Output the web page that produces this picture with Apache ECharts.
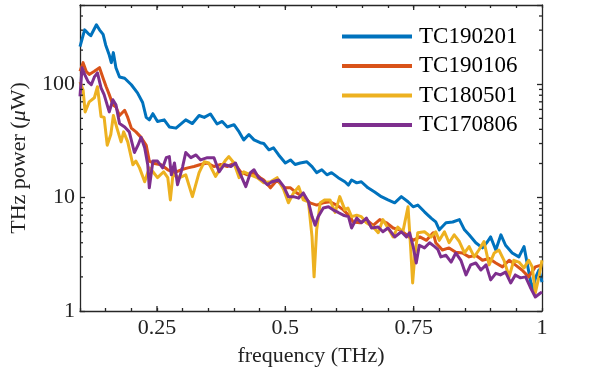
<!DOCTYPE html>
<html>
<head>
<meta charset="utf-8">
<style>
    html, body { margin: 0; padding: 0; background: #fff; }
    #thzPower { width: 598px; height: 376px; }
</style>
<script src="https://cdn.jsdelivr.net/npm/echarts@6/dist/echarts.min.js"></script>
</head>
<body>
<div id="thzPower"></div>
<script>
// [frequency (THz), power (uW)]
var tc190201 = [
    [0.100, 215], [0.109, 302], [0.116, 280], [0.121, 268], [0.132, 335], [0.138, 302],
    [0.145, 275], [0.150, 222], [0.157, 181], [0.161, 155], [0.165, 190], [0.170, 140],
    [0.177, 116], [0.187, 113], [0.200, 99], [0.212, 84], [0.222, 69], [0.229, 51],
    [0.235, 48.5], [0.242, 55], [0.251, 47], [0.264, 48.5], [0.274, 42], [0.287, 41],
    [0.306, 48.5], [0.319, 45], [0.332, 53], [0.342, 51], [0.354, 54.7], [0.367, 44.6],
    [0.377, 47], [0.387, 42], [0.400, 44], [0.410, 38], [0.419, 32.3], [0.429, 36],
    [0.439, 32.3], [0.451, 30.5], [0.458, 30], [0.468, 26.4], [0.477, 27.5], [0.487, 23.8],
    [0.500, 20.2], [0.510, 21.5], [0.519, 19.6], [0.529, 20.2], [0.542, 20.7], [0.552, 18.8],
    [0.561, 16.6], [0.571, 17.6], [0.581, 15.9], [0.590, 16.6], [0.603, 15], [0.616, 13.8],
    [0.623, 12.9], [0.629, 14.3], [0.639, 13.5], [0.648, 13.8], [0.661, 12.2], [0.674, 11.2],
    [0.687, 10.2], [0.700, 9.55], [0.713, 9], [0.726, 10.2], [0.739, 9.2], [0.749, 8.3],
    [0.758, 8.6], [0.771, 7.5], [0.784, 6.6], [0.793, 6.1], [0.800, 5.2], [0.813, 6],
    [0.826, 6.1], [0.839, 6.4], [0.849, 5.2], [0.858, 4.7], [0.871, 4.0], [0.884, 3.6],
    [0.894, 4.1], [0.900, 4.5], [0.910, 3.45], [0.920, 4.7], [0.929, 3.8], [0.942, 3.25],
    [0.955, 3.0], [0.965, 3.7], [0.971, 2.65], [0.981, 1.53], [0.988, 2.0], [0.994, 2.3],
    [1.000, 1.8]
];
var tc190106 = [
    [0.100, 130], [0.106, 155], [0.112, 130], [0.118, 122], [0.128, 130], [0.138, 140],
    [0.145, 113], [0.151, 95], [0.157, 81], [0.164, 66], [0.170, 63], [0.177, 53],
    [0.187, 59], [0.193, 51], [0.200, 41], [0.209, 38], [0.219, 34], [0.229, 29],
    [0.235, 21], [0.245, 20], [0.258, 19.5], [0.271, 17.6], [0.284, 16.6], [0.297, 17.6],
    [0.310, 18.3], [0.322, 18.8], [0.335, 19.6], [0.348, 20.2], [0.361, 18.8], [0.374, 19.6],
    [0.387, 18.8], [0.400, 20.2], [0.413, 16.9], [0.426, 15.9], [0.439, 16.6], [0.451, 15],
    [0.458, 14.3], [0.471, 12.2], [0.484, 14.3], [0.497, 12.2], [0.510, 12.2], [0.522, 11],
    [0.535, 10.2], [0.548, 9], [0.561, 8.6], [0.574, 9], [0.587, 9.2], [0.600, 8.6],
    [0.613, 7.8], [0.626, 6.8], [0.632, 6.1], [0.645, 6], [0.658, 6.4], [0.671, 5.7],
    [0.684, 6.4], [0.697, 6], [0.710, 5.4], [0.723, 5.2], [0.736, 4.7], [0.749, 4.2],
    [0.762, 4.5], [0.775, 4.2], [0.788, 4.9], [0.793, 4.0], [0.806, 3.45], [0.819, 3.6],
    [0.832, 3.3], [0.845, 3.25], [0.858, 3.0], [0.871, 3.1], [0.884, 2.8], [0.897, 2.9],
    [0.910, 2.65], [0.923, 2.45], [0.936, 2.8], [0.948, 2.55], [0.961, 2.3], [0.974, 2.0],
    [0.987, 2.45], [1.000, 2.55]
];
var tc180501 = [
    [0.100, 105], [0.106, 89], [0.110, 57], [0.118, 70], [0.128, 76], [0.134, 95],
    [0.141, 52], [0.147, 51], [0.153, 29], [0.160, 36], [0.165, 53], [0.172, 41],
    [0.180, 31], [0.185, 38], [0.193, 31], [0.203, 19.5], [0.209, 21], [0.216, 18.3],
    [0.226, 13.8], [0.235, 18.3], [0.242, 16.9], [0.251, 15], [0.263, 16.9], [0.271, 15],
    [0.276, 9.55], [0.281, 15.9], [0.294, 15], [0.306, 15.9], [0.319, 10.2], [0.332, 16.6],
    [0.342, 20.7], [0.351, 20.2], [0.364, 15.4], [0.374, 18.3], [0.384, 21.5], [0.390, 23],
    [0.400, 20.2], [0.410, 15], [0.419, 16.9], [0.432, 15.9], [0.445, 15], [0.458, 13.5],
    [0.471, 13.8], [0.484, 15], [0.497, 11.7], [0.506, 9], [0.516, 11], [0.526, 12.5],
    [0.535, 9.55], [0.545, 9.2], [0.552, 4.5], [0.556, 2.0], [0.561, 5.2], [0.568, 9],
    [0.577, 9.55], [0.587, 9.55], [0.597, 7.4], [0.606, 10.2], [0.616, 7.8], [0.622, 8.1],
    [0.629, 6.8], [0.639, 7], [0.648, 6.8], [0.658, 6], [0.671, 5.5], [0.681, 4.9],
    [0.690, 6.4], [0.700, 5.4], [0.710, 4.5], [0.719, 5.5], [0.729, 5], [0.739, 8.3],
    [0.744, 3.7], [0.748, 1.77], [0.752, 3.0], [0.758, 4.9], [0.771, 5], [0.784, 4.5],
    [0.793, 5.0], [0.800, 4.2], [0.810, 5], [0.819, 4.0], [0.829, 4.7], [0.839, 4.1],
    [0.849, 3.25], [0.858, 3.7], [0.868, 3.0], [0.877, 3.45], [0.887, 4.1], [0.897, 2.55],
    [0.907, 3.25], [0.916, 3.45], [0.926, 2.8], [0.936, 2.0], [0.945, 2.8], [0.955, 2.7],
    [0.965, 2.4], [0.974, 2.8], [0.981, 2.45], [0.987, 1.44], [0.994, 2.0], [1.000, 2.8]
];
var tc170806 = [
    [0.100, 78], [0.104, 140], [0.109, 122], [0.116, 105], [0.122, 99], [0.128, 116],
    [0.134, 126], [0.141, 93], [0.147, 81], [0.157, 57], [0.164, 73], [0.170, 66],
    [0.177, 45], [0.187, 42], [0.196, 38], [0.206, 25], [0.213, 29], [0.219, 34],
    [0.226, 27.5], [0.232, 19.5], [0.235, 12.2], [0.242, 21], [0.251, 21], [0.261, 18.3],
    [0.268, 22.5], [0.274, 23], [0.278, 15.9], [0.284, 20.2], [0.290, 13], [0.300, 18.8],
    [0.306, 25], [0.316, 22.5], [0.326, 23.8], [0.335, 21.5], [0.348, 22.5], [0.361, 22.5],
    [0.371, 16.9], [0.381, 19.6], [0.394, 18.8], [0.403, 20.2], [0.413, 15.9], [0.423, 12.5],
    [0.432, 16.6], [0.439, 17.6], [0.448, 15], [0.455, 14.3], [0.465, 13], [0.474, 13.8],
    [0.487, 14.3], [0.497, 12.5], [0.506, 10.2], [0.516, 10.2], [0.526, 9.9], [0.535, 11],
    [0.545, 9.2], [0.552, 6.8], [0.558, 5.7], [0.564, 6.8], [0.574, 8.1], [0.584, 8.3],
    [0.593, 7.8], [0.603, 7.4], [0.613, 7], [0.623, 6.8], [0.629, 5.4], [0.639, 6.6],
    [0.648, 6], [0.658, 6.6], [0.668, 5.4], [0.681, 5.5], [0.690, 5], [0.700, 5.4],
    [0.713, 4.5], [0.726, 5], [0.736, 4.5], [0.742, 4.9], [0.749, 3.7], [0.755, 2.65],
    [0.761, 3.8], [0.771, 3.6], [0.781, 4.0], [0.791, 3.7], [0.797, 3.5], [0.803, 3.0],
    [0.813, 3.1], [0.823, 2.7], [0.832, 3.25], [0.842, 2.8], [0.852, 2.08], [0.861, 2.55],
    [0.871, 2.65], [0.881, 2.3], [0.891, 2.55], [0.900, 1.88], [0.910, 2.15], [0.919, 2.08],
    [0.929, 2.2], [0.939, 1.77], [0.948, 2.08], [0.958, 1.96], [0.968, 2.0], [0.977, 1.63],
    [0.987, 1.33], [0.997, 1.44], [1.000, 1.47]
];
var seriesNames = ['TC190201', 'TC190106', 'TC180501', 'TC170806'];
var seriesColors = ['#0072BD', '#D95319', '#EDB120', '#7E2F8E'];
var yTickLabels = [1, 10, 100];
var xTickLabels = [0.25, 0.5, 0.75, 1];
var yMinorTicks = [2, 3, 4, 5, 6, 7, 8, 9, 20, 30, 40, 50, 60, 70, 80, 90, 200, 300, 400];

var FONT = '"Liberation Serif", "DejaVu Serif", serif';
var chart = echarts.init(document.getElementById('thzPower'), null, {renderer: 'canvas'});

function lineSeries(name, data, color) {
    return {
        name: name,
        type: 'line',
        data: data,
        showSymbol: false,
        symbol: 'none',
        color: color,
        lineStyle: {width: 3, color: color, join: 'round'},
        animation: false,
        z: 3
    };
}

// short inner ticks (log minor ticks on both y sides, long major ticks on both x sides)
function tickSeries(data, drawFn) {
    return {
        type: 'custom',
        data: data,
        silent: true,
        clip: false,
        animation: false,
        z: 4,
        renderItem: drawFn
    };
}

var option = {
    backgroundColor: '#fff',
    animation: false,
    grid: {left: 77, right: 56, top: 5, bottom: 65},
    legend: {
        data: seriesNames,
        orient: 'vertical',
        left: 337,
        top: 20,
        itemWidth: 70,
        itemHeight: 4,
        itemGap: 6.5,
        icon: 'rect',
        textStyle: {fontFamily: FONT, fontSize: 23, color: '#000', padding: [0, 0, 0, 2], lineHeight: 23}
    },
    xAxis: [{
        type: 'value',
        min: 0.1,
        max: 1,
        interval: 0.05,
        name: 'frequency (THz)',
        nameLocation: 'middle',
        nameGap: 34,
        nameTextStyle: {fontFamily: FONT, fontSize: 22, color: '#222'},
        axisLine: {show: true, onZero: false, lineStyle: {color: '#262626', width: 1.3}},
        axisTick: {show: true, inside: true, length: 3, lineStyle: {color: '#262626', width: 1.3}},
        axisLabel: {
            fontFamily: FONT, fontSize: 22, color: '#222', margin: 6,
            formatter: function (v) {
                for (var i = 0; i < xTickLabels.length; i++) {
                    if (Math.abs(v - xTickLabels[i]) < 1e-6) return String(xTickLabels[i]);
                }
                return '';
            }
        },
        splitLine: {show: false}
    }, {
        type: 'value',
        position: 'top',
        min: 0.1,
        max: 1,
        interval: 0.05,
        axisLine: {show: true, onZero: false, lineStyle: {color: '#262626', width: 1.3}},
        axisTick: {show: true, inside: true, length: 3, lineStyle: {color: '#262626', width: 1.3}},
        axisLabel: {show: false},
        splitLine: {show: false}
    }],
    yAxis: [{
        type: 'log',
        logBase: 10,
        min: 1,
        max: 500,
        name: 'THz power ({i|μ}W)',
        nameLocation: 'middle',
        nameGap: 50,
        nameTextStyle: {
            fontFamily: FONT, fontSize: 22, color: '#222',
            rich: {i: {fontFamily: FONT, fontSize: 22, fontStyle: 'italic', color: '#222'}}
        },
        axisLine: {show: true, onZero: false, lineStyle: {color: '#262626', width: 1.3}},
        axisTick: {show: true, inside: true, length: 5, lineStyle: {color: '#262626', width: 1.3}},
        axisLabel: {
            fontFamily: FONT, fontSize: 22, color: '#222', margin: 5,
            formatter: function (v) {
                for (var i = 0; i < yTickLabels.length; i++) {
                    if (Math.abs(v - yTickLabels[i]) < 1e-6 * yTickLabels[i]) return String(yTickLabels[i]);
                }
                return '';
            }
        },
        splitLine: {show: false}
    }, {
        type: 'log',
        logBase: 10,
        min: 1,
        max: 500,
        position: 'right',
        axisLine: {show: true, onZero: false, lineStyle: {color: '#262626', width: 1.3}},
        axisTick: {show: true, inside: true, length: 5, lineStyle: {color: '#262626', width: 1.3}},
        axisLabel: {show: false},
        splitLine: {show: false}
    }],
    series: [
        lineSeries(seriesNames[0], tc190201, seriesColors[0]),
        lineSeries(seriesNames[1], tc190106, seriesColors[1]),
        lineSeries(seriesNames[2], tc180501, seriesColors[2]),
        lineSeries(seriesNames[3], tc170806, seriesColors[3]),
        tickSeries(yMinorTicks.map(function (v) { return [0.1, v]; }), function (params, api) {
            var l = api.coord([0.1, api.value(1)]);
            var r = api.coord([1, api.value(1)]);
            var st = {stroke: '#262626', lineWidth: 1.3};
            return {type: 'group', children: [
                {type: 'line', shape: {x1: l[0], y1: l[1], x2: l[0] + 3, y2: l[1]}, style: st},
                {type: 'line', shape: {x1: r[0], y1: r[1], x2: r[0] - 3, y2: r[1]}, style: st}
            ]};
        }),
        tickSeries(xTickLabels.slice(0, 3).map(function (v) { return [v, 1]; }), function (params, api) {
            var b = api.coord([api.value(0), 1]);
            var t = api.coord([api.value(0), 500]);
            var st = {stroke: '#262626', lineWidth: 1.3};
            return {type: 'group', children: [
                {type: 'line', shape: {x1: b[0], y1: b[1], x2: b[0], y2: b[1] - 5}, style: st},
                {type: 'line', shape: {x1: t[0], y1: t[1], x2: t[0], y2: t[1] + 5}, style: st}
            ]};
        })
    ]
};
chart.setOption(option);
</script>
</body>
</html>
